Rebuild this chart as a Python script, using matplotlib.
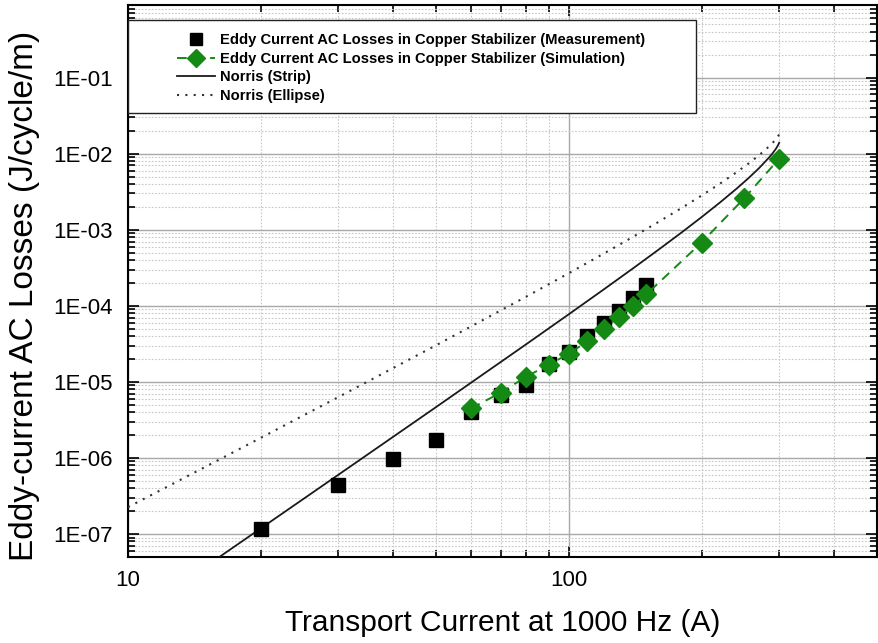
import matplotlib
matplotlib.use("Agg")
import matplotlib.pyplot as plt
from matplotlib.ticker import LogLocator, FuncFormatter, NullFormatter
from matplotlib.patches import Rectangle
import numpy as np

plt.rcParams['font.family'] = ['Liberation Sans', 'DejaVu Sans']

# Measured eddy-current losses (A, J/cycle/m)
meas_current = [20, 30, 40, 50, 60, 70, 80, 90, 100, 110, 120, 130, 140, 150]
meas_loss = [1.15e-7, 4.4e-7, 9.7e-7, 1.72e-6, 4.0e-6, 6.8e-6, 9.2e-6, 1.73e-5,
             2.5e-5, 4.0e-5, 6.0e-5, 8.5e-5, 1.27e-4, 1.9e-4]

# Simulated eddy-current losses
sim_current = [60, 70, 80, 90, 100, 110, 120, 130, 140, 150, 200, 250, 300]
sim_loss = [4.5e-6, 7.2e-6, 1.17e-5, 1.68e-5, 2.35e-5, 3.4e-5, 5.0e-5, 7.2e-5,
            1.0e-4, 1.42e-4, 6.8e-4, 2.6e-3, 8.6e-3]

# Norris strip model
strip_current = [15, 16, 20, 30, 50, 80, 100, 120, 140, 160, 180, 200, 220, 240,
                 255, 270, 285, 290, 295, 298, 300]
strip_loss = [3.75e-8, 4.86e-8, 1.187e-7, 6.02e-7, 4.68e-6, 3.124e-5, 7.76e-5,
              1.644e-4, 3.127e-4, 5.51e-4, 9.176e-4, 1.466e-3, 2.274e-3, 3.461e-3,
              4.717e-3, 6.453e-3, 9.0e-3, 1.0163e-2, 1.1627e-2, 1.2848e-2, 1.3907e-2]

# Norris ellipse model
ellipse_current = [10, 15, 20, 30, 50, 80, 100, 120, 140, 160, 180, 200, 220, 240,
                   255, 270, 285, 290, 295, 298, 300]
ellipse_loss = [2.26e-7, 7.69e-7, 1.839e-6, 6.32e-6, 3.034e-5, 1.319e-4, 2.688e-4,
                4.862e-4, 8.107e-4, 1.276e-3, 1.925e-3, 2.817e-3, 4.031e-3, 5.692e-3,
                7.351e-3, 9.531e-3, 1.2563e-2, 1.3899e-2, 1.5538e-2, 1.6797e-2, 1.8e-2]

labels = ["Eddy Current AC Losses in Copper Stabilizer (Measurement)",
          "Eddy Current AC Losses in Copper Stabilizer (Simulation)",
          "Norris (Strip)",
          "Norris (Ellipse)"]

green = "#148a14"

fig = plt.figure(figsize=(8.79, 6.43), dpi=100)
ax = fig.add_axes([128 / 879, 1 - 557 / 643, 749 / 879, 552 / 643])

ax.set_xscale("log")
ax.set_yscale("log")
ax.set_xlim(10, 500)
ax.set_ylim(5e-8, 0.9)

# grid
ax.grid(True, which="major", color="#a8a8a8", linewidth=1.0, linestyle="-", zorder=0)
ax.grid(True, which="minor", color="#c8c8c8", linewidth=0.8, linestyle=(0, (1.5, 1.5)), zorder=0)
ax.set_axisbelow(True)

l_strip, = ax.plot(strip_current, strip_loss, color="#1a1a1a", linewidth=1.3, zorder=3)
l_ell, = ax.plot(ellipse_current, ellipse_loss, color="#333333", linewidth=1.5,
                 linestyle=(0, (1, 3)), zorder=3)
l_meas, = ax.plot(meas_current, meas_loss, linestyle="none", marker="s",
                  markersize=9.5, color="black", zorder=4)
l_sim, = ax.plot(sim_current, sim_loss, linestyle=(0, (5, 3.5)), linewidth=1.4,
                 color=green, marker="D", markersize=10.5, markeredgecolor=green, zorder=5)

# ticks
ax.xaxis.set_major_locator(LogLocator(base=10, numticks=10))
ax.xaxis.set_minor_locator(LogLocator(base=10, subs=np.arange(2, 10), numticks=20))
ax.yaxis.set_major_locator(LogLocator(base=10, numticks=20))
ax.yaxis.set_minor_locator(LogLocator(base=10, subs=np.arange(2, 10), numticks=40))
ax.xaxis.set_minor_formatter(NullFormatter())
ax.yaxis.set_minor_formatter(NullFormatter())
ax.xaxis.set_major_formatter(FuncFormatter(lambda v, p: f"{v:g}"))
ax.yaxis.set_major_formatter(FuncFormatter(lambda v, p: f"1E{int(round(np.log10(v))):+03d}"))

ax.tick_params(which="both", direction="in", top=True, right=True, width=1.2, color="black")
ax.tick_params(which="major", length=8)
ax.tick_params(which="minor", length=5)
ax.tick_params(axis="x", which="major", labelsize=16, pad=9)
ax.tick_params(axis="y", which="major", labelsize=16, pad=11)
for s in ax.spines.values():
    s.set_linewidth(1.5)
    s.set_color("black")

ax.set_xlabel("Transport Current at 1000 Hz (A)", fontsize=21.5)
ax.set_ylabel("Eddy-current AC Losses (J/cycle/m)", fontsize=24)
ax.xaxis.set_label_coords(0.5, -0.095)
ax.yaxis.set_label_coords(-0.1175, 0.473)

# legend box
x_right = (696 - 128) / 749
y_top = 1 - (20 - 5) / 552
y_bot = 1 - (113 - 5) / 552
ax.add_patch(Rectangle((0, y_bot), x_right, y_top - y_bot, transform=ax.transAxes,
                       facecolor="white", edgecolor="#222222", linewidth=1.0, zorder=6))
leg = ax.legend([l_meas, l_sim, l_strip, l_ell], labels, loc="upper left",
                bbox_to_anchor=((177 - 128) / 749, 1 - (33 - 5) / 552),
                frameon=False, borderpad=0, borderaxespad=0, handlelength=2.6,
                handletextpad=0.3, labelspacing=0.32, prop={"weight": "bold", "size": 10.6},
                markerscale=0.9)
leg.set_zorder(7)

fig.savefig("out.png", dpi=100)
